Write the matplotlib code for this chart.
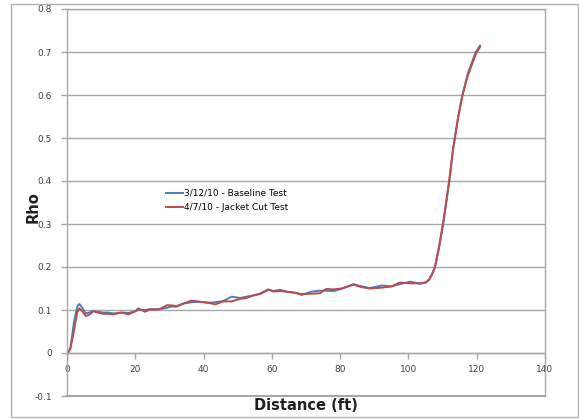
import matplotlib.pyplot as plt
from matplotlib.patches import Rectangle

# TDR trace readings, distance in feet
distance = [0, 1, 2, 3, 3.6, 4.5, 5.5, 6.5, 7.7, 9, 10.6, 12, 13.6, 16, 18, 20, 20.9,
            22.8, 24.3, 26.3, 27.2, 29.2, 30.5, 32.1, 34.1, 36.5, 39, 41.9, 43.4, 45.8,
            48.2, 50.7, 52.6, 54.6, 56.5, 59, 60.4, 62.4, 64.8, 66.8, 68.7, 71.7, 74.1,
            75.9, 78, 80.4, 83.9, 86.3, 88.7, 92.2, 95.1, 97.5, 100.5, 103.4, 105, 106,
            107, 107.8, 109, 110.2, 111.1, 112, 113, 113.6, 114.6, 115.8, 117.4, 119.7, 121]

baseline = [-0.005, 0.012, 0.07, 0.108, 0.114, 0.105, 0.092, 0.094, 0.098, 0.096, 0.094,
            0.094, 0.092, 0.094, 0.093, 0.097, 0.100, 0.100, 0.102, 0.102, 0.102, 0.105,
            0.108, 0.108, 0.115, 0.118, 0.119, 0.117, 0.118, 0.121, 0.131, 0.128, 0.131,
            0.134, 0.137, 0.147, 0.144, 0.147, 0.142, 0.140, 0.135, 0.143, 0.145, 0.145,
            0.144, 0.149, 0.160, 0.155, 0.151, 0.157, 0.155, 0.160, 0.166, 0.161, 0.164,
            0.170, 0.184, 0.200, 0.245, 0.300, 0.350, 0.400, 0.470, 0.500, 0.550, 0.600,
            0.650, 0.700, 0.715]

jacket_cut = [-0.005, 0.010, 0.05, 0.095, 0.104, 0.097, 0.086, 0.089, 0.097, 0.094, 0.091,
              0.091, 0.090, 0.094, 0.090, 0.097, 0.104, 0.096, 0.101, 0.101, 0.102, 0.111,
              0.111, 0.109, 0.115, 0.122, 0.119, 0.116, 0.113, 0.120, 0.120, 0.126, 0.128,
              0.134, 0.138, 0.148, 0.143, 0.144, 0.142, 0.140, 0.137, 0.138, 0.139, 0.149,
              0.148, 0.150, 0.159, 0.153, 0.150, 0.152, 0.155, 0.164, 0.162, 0.162, 0.164,
              0.170, 0.185, 0.202, 0.250, 0.305, 0.355, 0.405, 0.470, 0.500, 0.550, 0.598,
              0.645, 0.695, 0.712]

labels = ['3/12/10 - Baseline Test', '4/7/10 - Jacket Cut Test']

grid_col = '#a6a6a6'
text_col = '#404040'

fig = plt.figure(figsize=(5.79, 4.19), dpi=100)
fig.patches.append(Rectangle((11 / 579, 2 / 419), 567 / 579, 413 / 419,
                             transform=fig.transFigure, fill=False,
                             edgecolor='#b0b0b0', linewidth=1.0))

ax = fig.add_axes([67 / 579, 1 - 396 / 419, 478 / 579, 387 / 419])
ax.plot(distance, baseline, color='#4a7ebb', linewidth=1.4, label=labels[0])
ax.plot(distance, jacket_cut, color='#be4b48', linewidth=1.4, label=labels[1])

ax.set_xlim(0, 140)
ax.set_ylim(-0.1, 0.8)
ax.set_xticks(range(0, 141, 20))
ax.set_yticks([i / 10 for i in range(-1, 9)])
ax.set_yticklabels(['-0.1', '0', '0.1', '0.2', '0.3', '0.4', '0.5', '0.6', '0.7', '0.8'])

ax.yaxis.grid(True, color=grid_col, linewidth=1.0)
ax.set_axisbelow(True)
# plot area border along the bottom edge
ax.axhline(-0.1, color=grid_col, linewidth=1.5, clip_on=False, zorder=0)

# x axis sits on the zero line
ax.spines['bottom'].set_position(('data', 0))
for s in ['bottom', 'left', 'right', 'top']:
    ax.spines[s].set_color(grid_col)
    ax.spines[s].set_linewidth(1.0)
ax.tick_params(axis='both', colors=grid_col, labelcolor=text_col, labelsize=6.5,
               length=4, width=1.0, direction='out')
ax.tick_params(axis='y', pad=7)
ax.tick_params(axis='x', pad=5)

fig.text(306 / 579, 1 - 405 / 419, 'Distance (ft)', fontsize=10.5, fontweight='bold',
         color='#202020', ha='center', va='center')
fig.text(33 / 579, 1 - 207 / 419, 'Rho', fontsize=10.5, fontweight='bold',
         color='#202020', ha='center', va='center', rotation=90)

ax.legend(loc='upper left', bbox_to_anchor=(0.2, 0.545), frameon=False,
          fontsize=6.5, handlelength=1.9, handletextpad=0.1, labelspacing=0.55,
          borderaxespad=0)

fig.savefig('out.png', dpi=100)
